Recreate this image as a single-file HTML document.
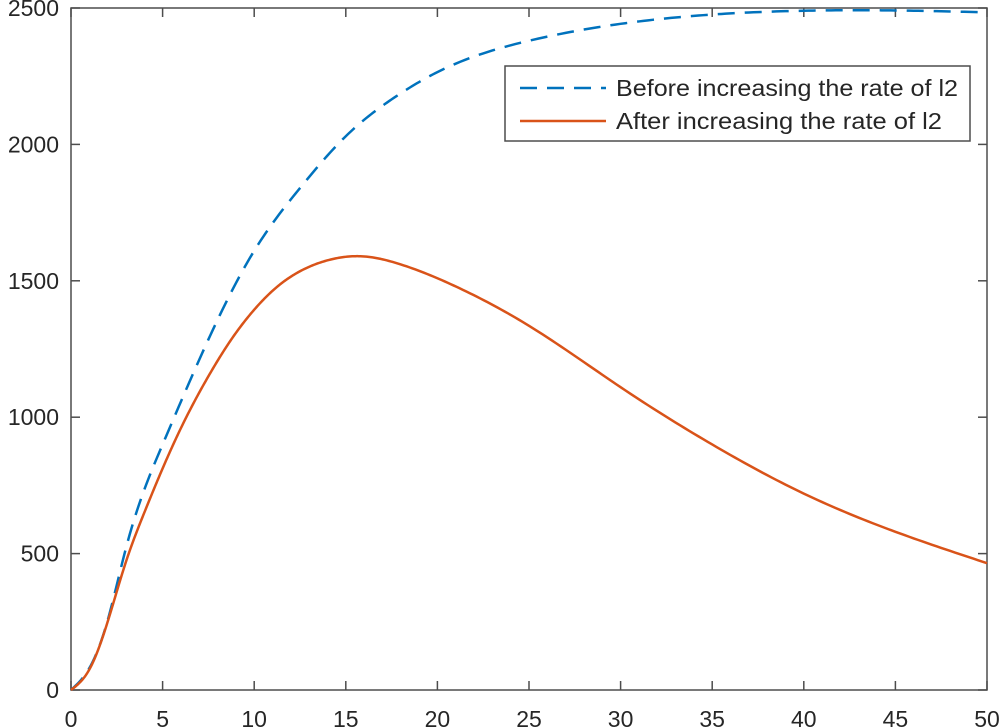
<!DOCTYPE html>
<html><head><style>body{margin:0;background:#fff}svg{display:block}</style></head>
<body>
<svg id="s" width="1000" height="728" xmlns="http://www.w3.org/2000/svg" font-family="Liberation Sans, sans-serif" font-size="23" fill="#262626">
<rect x="71" y="8" width="916" height="682" fill="#fff" stroke="#4d4d4d" stroke-width="1.5"/>
<g id="ticks" stroke="#4d4d4d" stroke-width="1.5"></g>
<g id="labels"></g>
<path id="b" fill="none" stroke="#0072bd" stroke-width="2.5" stroke-dasharray="17,10"/>
<path id="o" fill="none" stroke="#d95319" stroke-width="2.5"/>
<rect x="505" y="66" width="465" height="75" fill="#fff" stroke="#4d4d4d" stroke-width="1.5"/>
<line x1="520" y1="88" x2="606" y2="88" stroke="#0072bd" stroke-width="2.5" stroke-dasharray="17,10"/>
<line x1="520" y1="121" x2="606" y2="121" stroke="#d95319" stroke-width="2.5"/>
<text x="616" y="96" textLength="342" lengthAdjust="spacingAndGlyphs">Before increasing the rate of l2</text>
<text x="616" y="129" textLength="326" lengthAdjust="spacingAndGlyphs">After increasing the rate of l2</text>
</svg>
<script>
const X=t=>71+t*18.32, Y=v=>690-v*0.2728;
const B=[[0,0],[1,80],[2,255],[3,520],[5,900],[7.5,1285],[10,1610],[12.5,1840],[15,2030],[17.5,2165],[20,2265],[25,2380],[30,2442],[35,2476],[40,2490],[45,2491],[50,2484]];
const O=[[0,0],[1,75],[2,250],[3,470],[4,650],[5,812],[6,960],[7.5,1150],[8.75,1285],[10,1394],[11.25,1478],[12.5,1535],[14,1575],[15.8,1590],[18,1560],[21.2,1473],[25,1335],[30,1110],[35,900],[40,720],[45,580],[50,465]];
function spline(P){const n=P.length,x=P.map(p=>p[0]),y=P.map(p=>p[1]),h=[],a=[],l=[1],mu=[0],z=[0],c=new Array(n).fill(0),b=[],d=[];
for(let i=0;i<n-1;i++)h[i]=x[i+1]-x[i];
for(let i=1;i<n-1;i++)a[i]=3/h[i]*(y[i+1]-y[i])-3/h[i-1]*(y[i]-y[i-1]);
for(let i=1;i<n-1;i++){l[i]=2*(x[i+1]-x[i-1])-h[i-1]*mu[i-1];mu[i]=h[i]/l[i];z[i]=(a[i]-h[i-1]*z[i-1])/l[i];}
for(let j=n-2;j>=0;j--){c[j]=j>0?z[j]-mu[j]*c[j+1]:0;if(j==0)c[0]=0;b[j]=(y[j+1]-y[j])/h[j]-h[j]*(c[j+1]+2*c[j])/3;d[j]=(c[j+1]-c[j])/(3*h[j]);}
let pts=[];
for(let i=0;i<n-1;i++)for(let k=0;k<20;k++){const s=k/20*h[i];const v=y[i]+b[i]*s+c[i]*s*s+d[i]*s*s*s;pts.push([X(x[i]+s),Y(v)]);}
pts.push([X(x[n-1]),Y(y[n-1])]);
return "M"+pts.map(p=>p[0].toFixed(2)+","+p[1].toFixed(2)).join(" L");}
document.getElementById('b').setAttribute('d',spline(B));
document.getElementById('o').setAttribute('d',spline(O));
let t="",l="";
for(let i=0;i<=10;i++){const x=X(i*5);t+=`<line x1="${x}" y1="690" x2="${x}" y2="681"/><line x1="${x}" y1="8" x2="${x}" y2="17"/>`;
l+=`<text x="${x}" y="727" text-anchor="middle">${i*5}</text>`;}
for(let i=0;i<=5;i++){const y=Y(i*500);t+=`<line x1="71" y1="${y}" x2="80" y2="${y}"/><line x1="987" y1="${y}" x2="978" y2="${y}"/>`;
l+=`<text x="59" y="${y+8}" text-anchor="end">${i*500}</text>`;}
document.getElementById('ticks').innerHTML=t;document.getElementById('labels').innerHTML=l;
</script>
</body></html>
